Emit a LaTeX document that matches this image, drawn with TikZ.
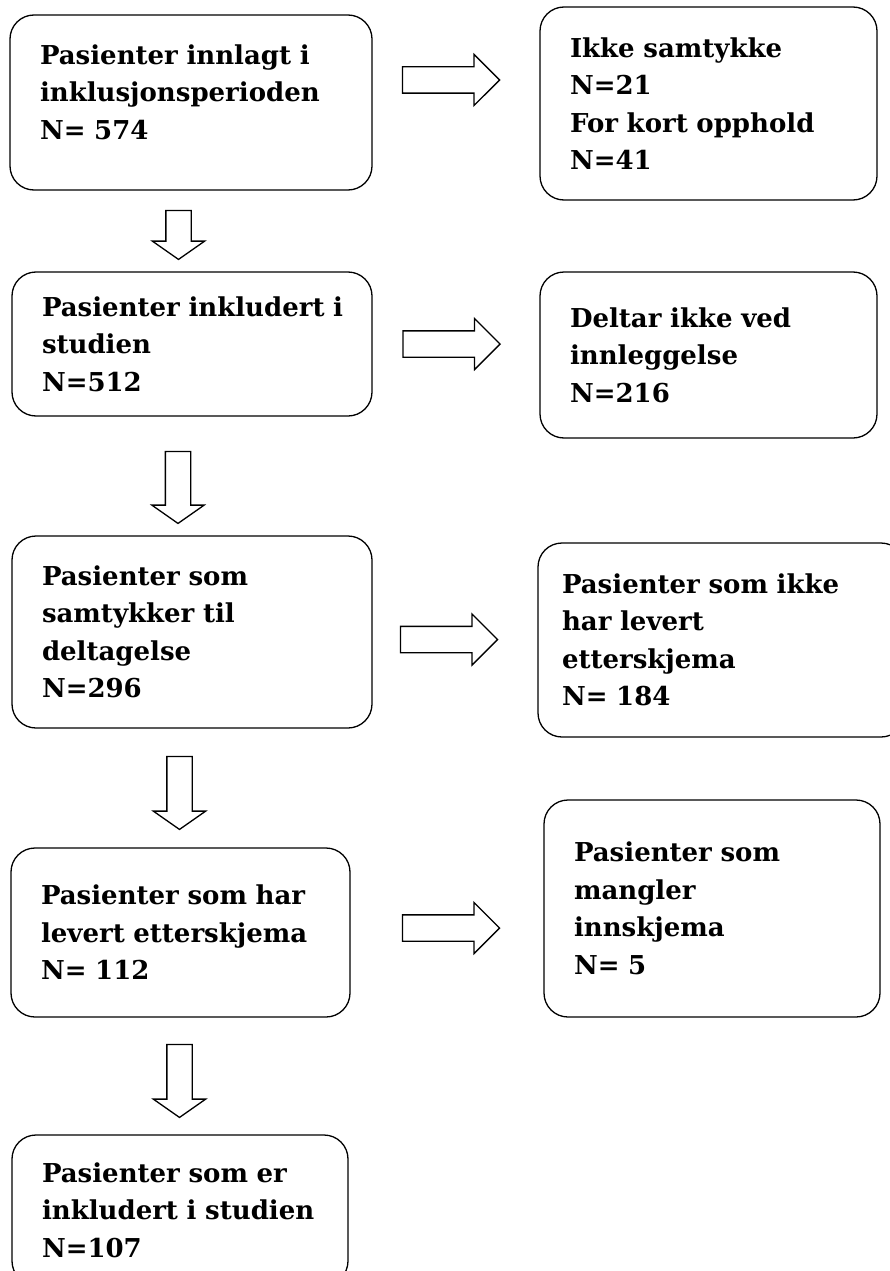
\documentclass[tikz,border=0pt]{standalone}
\usepackage{fontspec}
\setmainfont{DejaVu Serif}
\usepackage{tikz}
\usetikzlibrary{shapes.arrows}
\hyphenpenalty=10000
\exhyphenpenalty=10000

\begin{document}
\begin{tikzpicture}[x=1pt, y=-1pt, line width=1.3pt,
  box/.style={draw, rounded corners=24pt, align=left, inner xsep=30pt, inner ysep=0pt,
    font=\fontsize{26}{37.5}\selectfont\bfseries},
  rarrow/.style={draw, single arrow, single arrow head extend=12.5pt, inner xsep=0pt,
    inner ysep=12.5pt, minimum height=97pt},
  darrow/.style={draw, single arrow, rotate=-90, single arrow head extend=13.5pt,
    single arrow tip angle=110, inner xsep=0pt, inner ysep=12pt}]
  \useasboundingbox (0,0) rectangle (889,1271);

  \node[box, text width=302pt, minimum height=175pt] (innlagt) at (191,102.5)
    {Pasienter innlagt i\\inklusjonsperioden\\N= 574\\[-16pt]\mbox{}};
  \node[box, text width=277pt, minimum height=193pt] (samtykke) at (708.5,103.5)
    {Ikke samtykke\\N=21\\For kort opphold\\N=41};
  \node[box, text width=300pt, minimum height=144pt] (inkludert) at (192,344)
    {Pasienter~inkludert~i\\studien\\N=512};
  \node[box, text width=277pt, minimum height=166pt] (deltar) at (708.5,355)
    {Deltar ikke ved\\innleggelse\\N=216};
  \node[box, text width=300pt, minimum height=192pt] (deltagelse) at (192,632)
    {Pasienter som\\samtykker til\\deltagelse\\N=296};
  \node[box, inner xsep=24pt, text width=319pt, minimum height=194pt] (ikkelevert) at (721.5,640)
    {Pasienter som ikke\\har levert\\etterskjema\\N= 184};
  \node[box, text width=279pt, minimum height=169pt] (levert) at (180.5,932.5)
    {Pasienter som har\\levert etterskjema\\N= 112};
  \node[box, text width=276pt, minimum height=217pt] (mangler) at (712,908.5)
    {Pasienter som\\mangler\\innskjema\\N= 5};
  \node[box, text width=276pt, minimum height=150pt] (studien) at (180,1210)
    {Pasienter som er\\inkludert~i~studien\\N=107};

  \node[rarrow] (r1) at (444.5,80) {};
  \node[rarrow] (r2) at (445,344) {};
  \node[rarrow] (r3) at (442.5,639.5) {};
  \node[rarrow] (r4) at (444.5,928) {};

  \node[darrow, minimum height=49pt] (d1) at (178.5,230.5) {};
  \node[darrow, minimum height=72pt] (d2) at (178,483) {};
  \node[darrow, minimum height=73pt] (d3) at (179.5,788.5) {};
  \node[darrow, minimum height=73pt] (d4) at (179.5,1076.5) {};
\end{tikzpicture}
\end{document}
